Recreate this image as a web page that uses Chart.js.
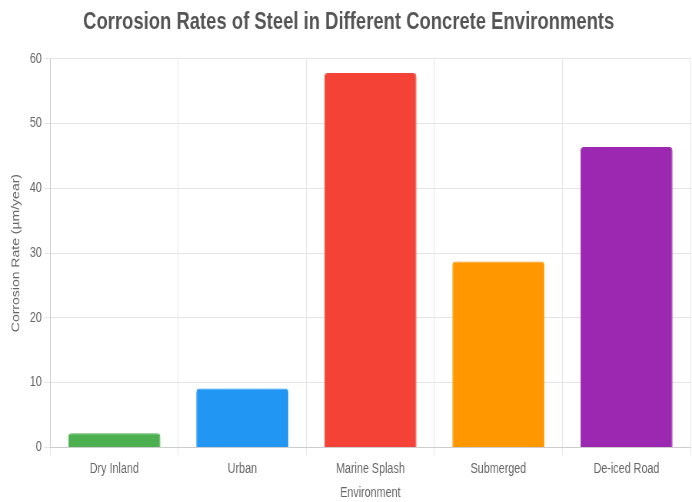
<!DOCTYPE html>
<html>
<head>
<meta charset="utf-8">
<script src="https://cdn.jsdelivr.net/npm/chart.js@4"></script>
<style>
  html, body { margin: 0; padding: 0; background: #fff; overflow: hidden; }
  #wrap { width: 900px; height: 502px; transform: scaleX(0.7689); transform-origin: 0 0; }
</style>
</head>
<body>
<div id="wrap"><canvas id="chart" width="900" height="502"></canvas></div>
<script>
var environments = ['Dry Inland', 'Urban', 'Marine Splash', 'Submerged', 'De-iced Road'];
var corrosionRates = [2.2, 9.1, 57.8, 28.7, 46.4];
var barColors = ['#4CAF50', '#2196F3', '#F44336', '#FF9800', '#9C27B0'];

var axisFont = { family: 'Liberation Sans, Arial', size: 14 };

var ctx = document.getElementById('chart');
new Chart(ctx, {
    type: 'bar',
    data: {
        labels: environments,
        datasets: [{
            label: 'Corrosion Rate',
            data: corrosionRates,
            backgroundColor: barColors,
            borderColor: barColors,
            borderWidth: 1,
            borderRadius: 4
        }]
    },
    options: {
        responsive: false,
        animation: false,
        layout: { padding: { top: 2, right: 2, bottom: 0, left: 9 } },
        plugins: {
            legend: { display: false },
            title: {
                display: true,
                text: 'Corrosion Rates of Steel in Different Concrete Environments',
                color: '#555',
                font: { family: 'Liberation Sans, Arial, sans-serif', size: 24, weight: 'bold' },
                padding: { top: 6, bottom: 22 }
            }
        },
        scales: {
            x: {
                ticks: { color: '#666', font: axisFont, padding: 5 },
                grid: { color: '#e5e5e5' },
                title: { display: true, text: 'Environment', color: '#666', font: axisFont, padding: { top: 3, bottom: 0 } }
            },
            y: {
                min: 0,
                max: 60,
                ticks: { stepSize: 10, color: '#666', font: axisFont },
                grid: { color: '#e5e5e5' },
                title: { display: true, text: 'Corrosion Rate (µm/year)', color: '#666', font: axisFont, padding: { top: 4, bottom: 6 } }
            }
        }
    }
});
</script>
</body>
</html>
